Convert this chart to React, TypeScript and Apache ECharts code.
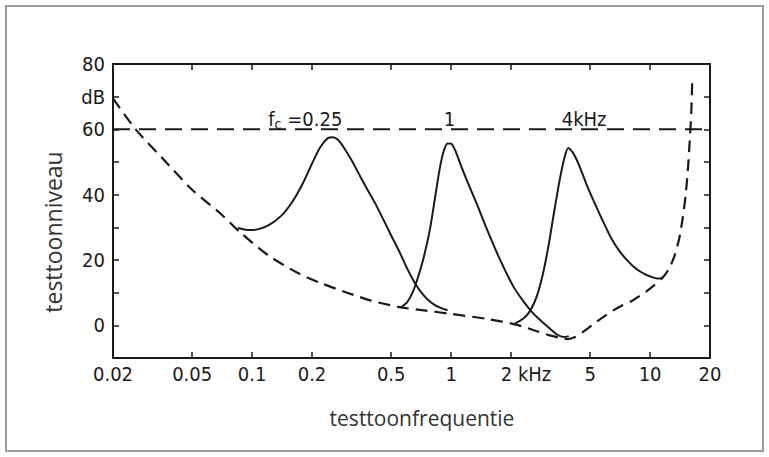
import React, { useEffect, useRef } from "react";
import * as echarts from "echarts";

// ---- axis ticks ----
const freqTicks = [0.02, 0.05, 0.1, 0.2, 0.5, 1, 2, 5, 10, 20];
const freqTickLabels = ["0.02", "0.05", "0.1", "0.2", "0.5", "1", "2 kHz", "5", "10", "20"];
const levelTickValues = [0, 20, 40, 60, 70, 80];
const levelTickLabels = ["0", "20", "40", "60", "dB", "80"];

// ---- threshold in quiet (dashed) ----
const thresholdFreq = [0.02, 0.026, 0.035, 0.05, 0.07, 0.087, 0.12, 0.17, 0.22, 0.3, 0.4, 0.56, 0.75, 1.0, 1.5, 2.1, 2.6, 3.1, 3.5, 3.85, 4.2, 4.6, 5.1, 5.8, 6.5, 7.2, 8.0, 8.6, 9.5, 10.5, 11.6, 12.5, 13.3, 14.0, 14.6, 15.1, 15.5, 15.8, 16.1, 16.3];
const thresholdLevel = [69.5, 60, 51.5, 41.5, 34, 28.5, 21.5, 16, 13, 10, 7.5, 5.5, 4.5, 3.5, 2, 0.3, -1.5, -3, -3.8, -4.2, -3.6, -2, 0, 2.5, 4.5, 6, 7.3, 8.5, 10.2, 12.3, 14.7, 17.5, 21.5, 26.5, 33, 40, 48, 56, 65, 76];

// ---- tuning curves (solid) ----
const fc025Freq = [0.085, 0.095, 0.105, 0.12, 0.14, 0.16, 0.18, 0.2, 0.22, 0.24, 0.255, 0.27, 0.29, 0.32, 0.35, 0.38, 0.42, 0.46, 0.5, 0.55, 0.6, 0.65, 0.7, 0.76, 0.83, 0.9, 0.96];
const fc025Level = [29.8, 29.2, 29.3, 30.5, 33.5, 38, 43.5, 49.5, 54.5, 57.3, 57.6, 56.8, 54.3, 50, 45.5, 41.5, 36.8, 32, 27.5, 22.5, 17.5, 13.5, 10.5, 8, 6.2, 5.2, 4.6];

const fc1Freq = [0.56, 0.6, 0.64, 0.68, 0.73, 0.786, 0.84, 0.88, 0.92, 0.96, 1.0, 1.05, 1.12, 1.2, 1.35, 1.5, 1.75, 2.05, 2.3, 2.6, 3.0, 3.4, 3.7, 3.9];
const fc1Level = [5.5, 7, 10, 14.5, 21, 30, 41, 48.5, 53.5, 55.7, 55.6, 53.5, 49, 44.4, 37, 30, 20.5, 12, 7.5, 3.5, 0, -2.8, -3.6, -3.3];

const fc4Freq = [2.1, 2.3, 2.5, 2.7, 2.9, 3.1, 3.3, 3.5, 3.7, 3.88, 4.1, 4.4, 4.8, 5.3, 5.83, 6.4, 7.0, 7.7, 8.5, 9.5, 10.4, 11.0, 11.6];
const fc4Level = [0.6, 2, 4.5, 9, 16, 25, 35, 44, 51, 54.3, 52.8, 49, 43, 37, 31.5, 26.5, 22.8, 19.8, 17.3, 15.5, 14.6, 14.3, 14.7];

// ---- reference line at 60 dB (dashed) ----
const refFreq = [0.02, 20];
const refLevel = [60, 60];

// ---- annotations ----
const annotationFreq = [0.185, 0.98, 4.66];
const annotationLevel = [60, 60, 60];
const annotationText = ["{f|f}{sub|c}{t| =0.25}", "{t|1}", "{t|4kHz}"];

const lg = (v: number) => Math.log10(v);
const pairs = (fs: number[], ls: number[]) => fs.map((f, i) => [lg(f), ls[i]]);

const INK = "#1a1a1a";
const TICK_FONT = "'Liberation Sans Narrow', 'DejaVu Sans Condensed', sans-serif";
const TITLE_FONT = "'Open Sans', 'Noto Sans', sans-serif";

export default function App() {
  const ref = useRef<HTMLDivElement>(null);
  useEffect(() => {
    if (!ref.current) return;
    const chart = echarts.init(ref.current, undefined, { renderer: "svg" });
    const xTickVals = freqTicks.map(lg);
    const xFormatter = (v: number) => {
      const i = xTickVals.findIndex((t) => Math.abs(t - v) < 1e-6);
      if (i < 0) return "";
      const s = freqTickLabels[i];
      return s === "2 kHz" ? "{k|" + s + "}" : s;
    };
    const yFormatter = (v: number) => {
      const i = levelTickValues.indexOf(v);
      return i < 0 ? "" : levelTickLabels[i];
    };
    const solid = { color: INK, width: 2 };
    const baseX = {
      type: "value",
      min: lg(0.02),
      max: lg(20),
      splitLine: { show: false },
      axisLine: { show: true, onZero: false, lineStyle: { color: INK, width: 2 } },
    };
    const baseY = {
      type: "value",
      min: -10,
      max: 80,
      interval: 10,
      splitLine: { show: false },
      axisLine: { show: true, onZero: false, lineStyle: { color: INK, width: 2 } },
      axisTick: { show: true, inside: true, length: 6, lineStyle: { color: INK, width: 1.5 } },
    };
    const tickText = { fontFamily: TICK_FONT, fontSize: 20, color: INK };
    chart.setOption({
      animation: false,
      backgroundColor: "#ffffff",
      grid: { left: 113, right: 59, top: 64, bottom: 99, outerBoundsMode: "none" },
      xAxis: [
        {
          ...baseX,
          position: "bottom",
          axisTick: { show: true, inside: true, length: 6, customValues: xTickVals, lineStyle: { color: INK, width: 1.5 } },
          axisLabel: {
            show: true,
            customValues: xTickVals,
            formatter: xFormatter,
            margin: 6,
            ...tickText,
            rich: { k: { ...tickText, padding: [0, 0, 0, 30] } },
          },
        },
        {
          ...baseX,
          position: "top",
          axisTick: { show: true, inside: true, length: 6, customValues: xTickVals, lineStyle: { color: INK, width: 1.5 } },
          axisLabel: { show: false },
        },
      ],
      yAxis: [
        {
          ...baseY,
          position: "left",
          axisLabel: { show: true, formatter: yFormatter, margin: 8, ...tickText },
        },
        { ...baseY, position: "right", axisLabel: { show: false } },
      ],
      graphic: [
        { type: "rect", shape: { x: 6, y: 6, width: 757, height: 445 }, style: { fill: "none", stroke: "#9c9c9c", lineWidth: 2 }, silent: true },
        {
          type: "text",
          x: 422,
          y: 418,
          style: { text: "testtoonfrequentie", fill: "#333333", font: "21px " + TITLE_FONT, textAlign: "center", textVerticalAlign: "middle" },
        },
        {
          type: "text",
          x: 53,
          y: 232,
          rotation: Math.PI / 2,
          style: { text: "testtoonniveau", fill: "#333333", font: "23px " + TITLE_FONT, textAlign: "center", textVerticalAlign: "middle" },
        },
      ],
      series: [
        {
          type: "line",
          name: "60 dB",
          data: pairs(refFreq, refLevel),
          symbol: "none",
          lineStyle: { color: INK, width: 2, type: [17, 9] },
        },
        {
          type: "line",
          name: "threshold",
          data: pairs(thresholdFreq, thresholdLevel),
          symbol: "none",
          smooth: 0.25,
          lineStyle: { color: INK, width: 2.2, type: [12, 7] },
        },
        { type: "line", name: "fc 0.25", data: pairs(fc025Freq, fc025Level), symbol: "none", smooth: 0.25, lineStyle: solid },
        { type: "line", name: "fc 1", data: pairs(fc1Freq, fc1Level), symbol: "none", smooth: 0.25, lineStyle: solid },
        { type: "line", name: "fc 4", data: pairs(fc4Freq, fc4Level), symbol: "none", smooth: 0.25, lineStyle: solid },
        {
          type: "scatter",
          name: "labels",
          symbolSize: 0,
          itemStyle: { color: INK, opacity: 1 },
          data: annotationFreq.map((f, i) => ({ value: [lg(f), annotationLevel[i]], label: { formatter: annotationText[i] } })),
          label: {
            show: true,
            position: "top",
            distance: 0,
            offset: [0, 2],
            color: INK,
            opacity: 1,
            rich: {
              t: { ...tickText, verticalAlign: "bottom", padding: [0, 0, 2, 0] },
              f: { ...tickText, verticalAlign: "bottom", padding: [0, 0, 2, 0] },
              sub: { ...tickText, fontSize: 14, verticalAlign: "bottom" },
            },
          },
        },
      ],
    });
    return () => chart.dispose();
  }, []);
  return <div ref={ref} style={{ position: "fixed", left: 0, top: 0, width: 769, height: 457 }} />;
}
